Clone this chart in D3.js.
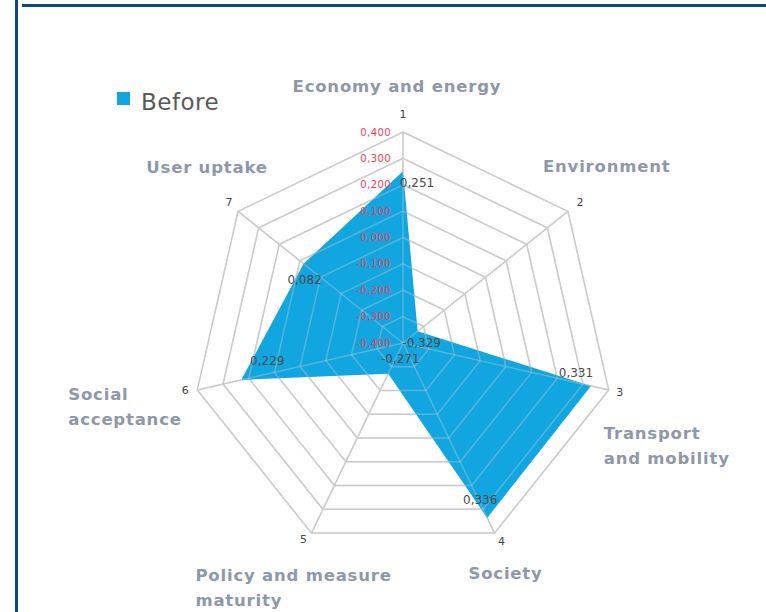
<!DOCTYPE html>
<html>
<head>
<meta charset="utf-8">
<script src="https://cdn.jsdelivr.net/npm/d3@7"></script>
<style>
  body { margin: 0; background: #fff; }
  svg { display: block; }
</style>
</head>
<body>
<div id="chart"></div>
<script>
var w = 766, h = 612;

// data
var axisNums = ['1', '2', '3', '4', '5', '6', '7'];
var categories = [
  ['Economy and energy'],
  ['Environment'],
  ['Transport', 'and mobility'],
  ['Society'],
  ['Policy and measure', 'maturity'],
  ['Social', 'acceptance'],
  ['User uptake']
];
var before = [0.251, -0.329, 0.331, 0.336, -0.271, 0.229, 0.082];
var ringTicks = [-0.4, -0.3, -0.2, -0.1, 0, 0.1, 0.2, 0.3, 0.4];

// label nudges (dx, dy) and text anchors
var valueNudge = [[14, 12], [4, 11], [-15, -13], [-7, -18], [12, -15], [26, -19], [1, 16]];
var catNudge = [[-6, -46, 'middle'], [-25, -45, 'start'], [-5, 43, 'start'], [11, 40, 'middle'],
                [-116, 42, 'start'], [-129, 4, 'start'], [-31, -44, 'middle']];

var fmt = function(v) { return d3.format('.3f')(v).replace('.', ',').replace('−', '-'); };

var svg = d3.select('#chart').append('svg')
  .attr('width', w)
  .attr('height', h);

// frame lines
svg.append('rect').attr('x', 15).attr('y', 0).attr('width', 3).attr('height', h).attr('fill', '#0b4a86');
svg.append('rect').attr('x', 22).attr('y', 4).attr('width', w - 22).attr('height', 3).attr('fill', '#0b4a86');

var cx = 403, cy = 343;
var r = d3.scaleLinear().domain([-0.4, 0.4]).range([0, 211]);
var ang = function(i) { return -Math.PI / 2 + i * 2 * Math.PI / 7; };
var pt = function(i, v) { return [cx + r(v) * Math.cos(ang(i)), cy + r(v) * Math.sin(ang(i))]; };

function drawGrid(g, color, op) {
  ringTicks.slice(1).forEach(function(t) {
    g.append('polygon')
      .attr('points', d3.range(7).map(function(i) { return pt(i, t).join(','); }).join(' '))
      .attr('fill', 'none')
      .attr('stroke', color)
      .attr('stroke-opacity', op)
      .attr('stroke-width', 1.5);
  });
  d3.range(7).forEach(function(i) {
    var p = pt(i, 0.4);
    g.append('line')
      .attr('x1', cx).attr('y1', cy).attr('x2', p[0]).attr('y2', p[1])
      .attr('stroke', color)
      .attr('stroke-opacity', op)
      .attr('stroke-width', 1.5);
  });
}

drawGrid(svg.append('g'), '#c8c8c8', 1);

// series
svg.append('polygon')
  .attr('points', before.map(function(v, i) { return pt(i, v).join(','); }).join(' '))
  .attr('fill', '#12a6e0');

drawGrid(svg.append('g'), '#d0d0d0', 0.35);

// ring tick labels
svg.selectAll('.rtick')
  .data(ringTicks)
  .enter().append('text')
  .attr('class', 'rtick')
  .attr('x', cx - 12)
  .attr('y', function(d) { return cy - r(d); })
  .attr('dy', '0.35em')
  .attr('text-anchor', 'end')
  .attr('font-family', 'DejaVu Sans, sans-serif')
  .attr('font-size', 10)
  .attr('letter-spacing', 0.4)
  .attr('fill', '#e8405a')
  .text(fmt);

// value labels
svg.selectAll('.vlab')
  .data(before)
  .enter().append('text')
  .attr('class', 'vlab')
  .attr('x', function(d, i) { return pt(i, d)[0] + valueNudge[i][0]; })
  .attr('y', function(d, i) { return pt(i, d)[1] + valueNudge[i][1]; })
  .attr('dy', '0.35em')
  .attr('text-anchor', 'middle')
  .attr('font-family', 'DejaVu Sans, sans-serif')
  .attr('font-size', 12)
  .attr('fill', '#4a4a4a')
  .text(fmt);

// axis numbers
var numNudge = [[0, -18], [12, -9], [11, 2], [7, 8], [-8, 6], [-12, 0], [-9, -9]];
svg.selectAll('.anum')
  .data(axisNums)
  .enter().append('text')
  .attr('class', 'anum')
  .attr('x', function(d, i) { return pt(i, 0.4)[0] + numNudge[i][0]; })
  .attr('y', function(d, i) { return pt(i, 0.4)[1] + numNudge[i][1]; })
  .attr('dy', '0.35em')
  .attr('text-anchor', 'middle')
  .attr('font-family', 'DejaVu Sans, sans-serif')
  .attr('font-size', 11)
  .attr('fill', '#444')
  .text(function(d) { return d; });

// category labels
categories.forEach(function(lines, i) {
  var p = pt(i, 0.4);
  var t = svg.append('text')
    .attr('x', p[0] + catNudge[i][0])
    .attr('y', p[1] + catNudge[i][1])
    .attr('dy', '0.35em')
    .attr('text-anchor', catNudge[i][2])
    .attr('font-family', 'DejaVu Sans, sans-serif')
    .attr('font-weight', 'bold')
    .attr('font-size', 16.5)
    .attr('letter-spacing', 0.8)
    .attr('fill', '#8e98a8');
  lines.forEach(function(s, k) {
    t.append('tspan')
      .attr('x', p[0] + catNudge[i][0])
      .attr('dy', k === 0 ? '0.35em' : 25)
      .text(s);
  });
});

// legend
svg.append('rect').attr('x', 117).attr('y', 92).attr('width', 13).attr('height', 13).attr('fill', '#12a6e0');
svg.append('text')
  .attr('x', 141).attr('y', 110)
  .attr('font-family', 'DejaVu Sans, sans-serif')
  .attr('font-size', 23)
  .attr('letter-spacing', 0.5)
  .attr('fill', '#5a5a5a')
  .text('Before');
</script>
</body>
</html>
